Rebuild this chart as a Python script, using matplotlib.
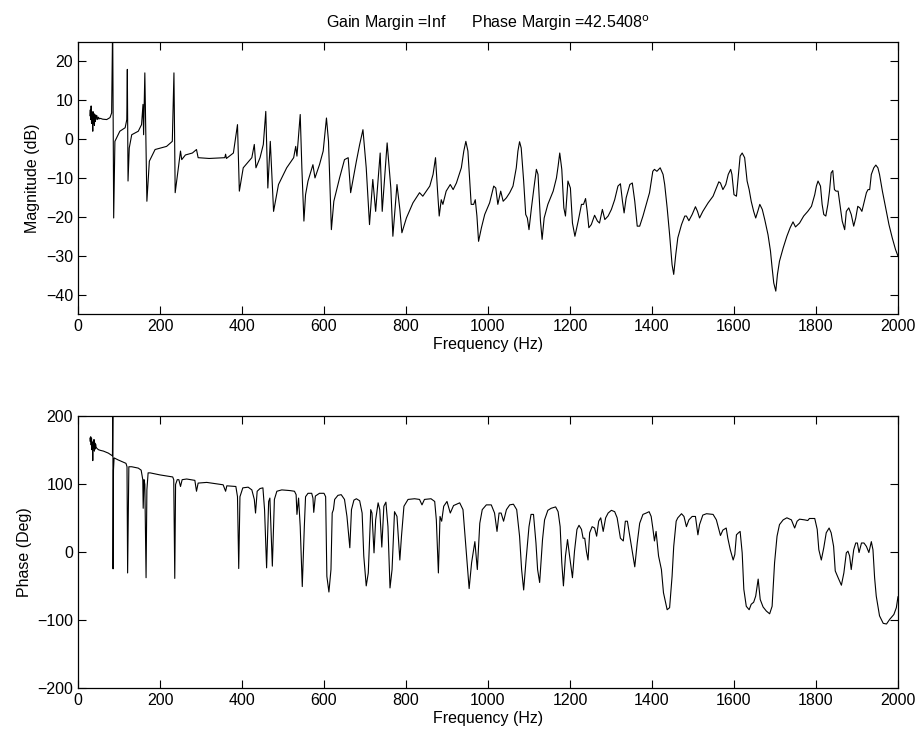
import matplotlib
matplotlib.use("Agg")
import matplotlib.pyplot as plt

plt.rcParams['font.family'] = ['Liberation Sans', 'DejaVu Sans']

# ---- Magnitude (dB) vs frequency (Hz) ----
mag_freq = [29, 30, 31, 32, 33, 34, 35, 36, 37, 38, 39, 40, 41, 42, 43, 44, 46, 48, 50, 52, 55, 60, 70, 78, 82,
            84.5, 87, 90, 102, 115, 119, 120.3, 122, 125, 131, 147, 155, 158.5, 160, 163, 168, 174, 188, 216,
            230, 234, 237, 250, 253, 262, 279, 289, 293, 320, 358, 360, 362, 379, 389, 393.5, 403, 424, 430,
            434, 444, 452, 458, 463, 469, 477, 489, 509, 526, 531, 534, 542, 546, 551, 555, 561, 573, 578, 589,
            598, 606, 611, 618, 624, 638, 650, 659, 665, 679, 687, 695, 703, 711, 719, 726, 737, 742, 754, 763,
            768, 778, 785, 790, 801, 817, 833, 841, 858, 866, 872, 877, 881, 886, 890, 898, 908, 915, 923, 935,
            941, 946, 951, 959, 965, 969, 973, 977, 984, 992, 1004, 1014, 1019, 1024, 1031, 1037, 1045, 1053,
            1061, 1069, 1073, 1077, 1081, 1087, 1092, 1096, 1100, 1106, 1112, 1118, 1122, 1128, 1132, 1137,
            1146, 1159, 1167, 1171, 1175, 1180, 1185, 1189, 1195, 1201, 1206, 1212, 1220, 1228, 1233, 1238,
            1242, 1246, 1252, 1260, 1267, 1272, 1279, 1285, 1293, 1301, 1309, 1317, 1323, 1328, 1332, 1337,
            1346, 1352, 1358, 1364, 1370, 1378, 1386, 1394, 1402, 1406, 1412, 1420, 1427, 1431, 1437, 1443,
            1449, 1453, 1458, 1463, 1472, 1480, 1484, 1490, 1498, 1506, 1511, 1516, 1524, 1537, 1549, 1557,
            1563, 1567, 1573, 1580, 1586, 1592, 1595, 1600, 1606, 1611, 1615, 1620, 1626, 1632, 1637, 1642,
            1648, 1653, 1658, 1663, 1669, 1675, 1683, 1689, 1693, 1697, 1702, 1706, 1711, 1720, 1729, 1737,
            1744, 1750, 1760, 1770, 1780, 1789, 1797, 1801, 1805, 1811, 1815, 1819, 1824, 1829, 1833, 1837,
            1841, 1845, 1849, 1854, 1858, 1864, 1870, 1874, 1880, 1886, 1892, 1897, 1902, 1907, 1912, 1917,
            1923, 1927, 1931, 1935, 1941, 1946, 1951, 1955, 1962, 1970, 1978, 1986, 1994, 2000]
mag_db = [6, 7.5, 5, 8.5, 4, 7, 5.5, 2, 7, 4, 6.5, 3.5, 6, 4.5, 6.2, 5, 6, 5, 5.6, 5.2, 5.3, 5.1, 5, 5.5, 6.7,
          30, -20.3, -0.6, 2, 2.9, 5, 17.9, -10.8, -2.3, 1.1, 2, 3.7, 8.9, 1.1, 17, -16, -5.7, -2.7, -1.9,
          -0.6, 17, -13.8, -3.1, -5.3, -4.1, -3.6, -2.7, -4.8, -5, -4.8, -3.9, -5, -3.6, 3.7, -13.4, -7.4, -4.8, -1.4,
          -7.4, -4.8, -1.4, 7.1, -12.6, -0.6, -18.6, -11.7, -7.4, -4.8, -1.9, -4.4, 6.3, -7.4, -21.1, -14.3, -10.8, -6.6, -10, -6.6,
          -3.1, 5.4, -0.6, -23.3, -16, -10, -5.3, -4.8, -13.8, -5.7, -1.4, 2.4, -7.4, -22, -10.4, -18.6, -3.6, -18.6, -1, -12.6,
          -25, -11.7, -18.1, -24.1, -20.3, -16.4, -13.8, -14.7, -12.1, -9.1, -4.8, -13.4, -19.8, -15.6, -16.8, -13.4, -11.7, -13, -11.3, -7.4,
          -3.1, -0.6, -3.1, -16.8, -16.8, -15.6, -19.8, -26.3, -22.8, -19.4, -16.4, -12.1, -12.6, -16.8, -13.4, -16, -15.1, -13.8,
          -12.1, -7.4, -3.1, -0.7, -2.3, -10.8, -19.4, -20.3, -23.3, -17.7, -12.6, -7.8, -9.1, -21.1, -25.8, -20.3,
          -16.8, -13.4, -10, -7, -3.6, -7.8, -17.7, -19.8, -10.8, -12.6, -21.6, -25, -21.1, -16.8, -16.8, -15.3,
          -18.6, -22.8, -22, -19.6, -21.1, -21.6, -18.1, -20.7, -19.8, -18.1, -15.6, -12.1, -11.5, -16, -19, -15.1,
          -11.7, -11.3, -16, -22.4, -22.4, -19.8, -16.8, -13.8, -8.3, -7.8, -8.3, -7.4, -9.1, -11.7, -17.7, -24.6,
          -32.3, -34.8, -29.7, -25.4, -22, -19.8, -19.8, -21, -19.4, -17.4, -18.6, -20.3, -18.6, -16.4, -14.7, -12.6,
          -11, -11.3, -13, -11.7, -9.1, -7.8, -9.1, -14.3, -14.7, -9.1, -4.4, -3.6, -4.8, -10.8, -13, -16,
          -18.6, -20.3, -18.6, -16.8, -18.1, -20.7, -24.6, -28.8, -33.1, -37, -39.1, -34.8, -31.4, -28, -25, -22.8,
          -21.3, -22.6, -21.6, -19.8, -18.6, -17.3, -14.3, -12.1, -10.8, -12.1, -16.8, -19.4, -19.8, -16.8, -13.4, -8.7,
          -8.1, -13, -13.4, -13.4, -16.4, -21.1, -23.3, -18.6, -17.7, -19.4, -22.4, -20.3, -17.3, -17.7, -18.6, -16.4,
          -13.8, -13, -13, -9.1, -7.4, -6.7, -7.4, -9.1, -13.4, -17.7, -22, -25.4, -28.4, -30.1]

# ---- Phase (deg) vs frequency (Hz) ----
phase_freq = [29, 30, 31, 32, 33, 34, 35, 36, 37, 38, 39, 40, 41, 42, 43, 44, 46, 48, 50, 55, 62, 74, 84,
              85, 85.5, 86.5, 88, 98, 117, 119.5, 121, 124, 131, 147, 154, 158, 159, 161, 163, 166, 168, 171,
              176, 200, 231, 233.5, 236, 238, 242, 246, 250, 254, 265, 285, 289, 293, 314, 354, 360, 363, 385,
              389, 392, 395, 402, 415, 424, 430, 433, 437, 444, 451, 455, 460, 465, 468, 474, 479, 485, 497,
              517, 528, 532, 534, 538, 542, 547, 552, 555, 561, 570, 573, 575, 579, 589, 600, 604, 607, 612,
              617, 620, 623, 626, 634, 642, 650, 656, 663, 667, 673, 679, 687, 693, 697, 703, 708, 714, 717,
              722, 726, 732, 736, 741, 746, 751, 756, 761, 766, 772, 778, 785, 789, 795, 805, 821, 833, 839,
              845, 861, 870, 874, 879, 883, 887, 892, 900, 908, 916, 931, 939, 946, 954, 960, 968, 974, 980,
              986, 996, 1008, 1016, 1022, 1027, 1032, 1038, 1045, 1053, 1062, 1070, 1077, 1082, 1087, 1093,
              1100, 1105, 1111, 1117, 1121, 1126, 1133, 1138, 1146, 1154, 1165, 1171, 1176, 1180, 1184, 1189,
              1194, 1199, 1206, 1211, 1217, 1222, 1228, 1232, 1236, 1240, 1244, 1248, 1254, 1260, 1265, 1270,
              1275, 1281, 1287, 1293, 1301, 1309, 1315, 1323, 1330, 1335, 1340, 1346, 1352, 1358, 1364, 1370,
              1378, 1386, 1393, 1398, 1402, 1406, 1410, 1416, 1423, 1428, 1437, 1443, 1449, 1453, 1459, 1463,
              1472, 1478, 1484, 1490, 1498, 1506, 1512, 1516, 1524, 1533, 1549, 1557, 1563, 1567, 1573, 1581,
              1585, 1591, 1598, 1602, 1606, 1611, 1615, 1620, 1624, 1630, 1637, 1642, 1648, 1653, 1659, 1664,
              1671, 1679, 1687, 1693, 1699, 1705, 1711, 1720, 1729, 1740, 1748, 1754, 1760, 1772, 1780, 1784,
              1790, 1797, 1803, 1807, 1813, 1819, 1825, 1832, 1837, 1843, 1847, 1854, 1862, 1868, 1874, 1878,
              1882, 1886, 1892, 1897, 1901, 1905, 1911, 1917, 1923, 1929, 1935, 1939, 1943, 1947, 1955, 1964,
              1972, 1980, 1990, 1996, 2000]
phase_deg = [167, 162, 169, 157, 167, 150, 160, 134, 162, 152, 165, 148, 160, 151, 158, 154, 152, 151, 150, 149, 148, 145, 141,
             230, -25, 120, 138, 135, 130, 125, -31, 125, 125, 123, 120, 106, 64, 106, 99, -38, 91, 116,
             116, 113, 110, 106, -39, 99, 106, 106, 96, 106, 107, 105, 89, 101, 102, 98.5, 89, 97, 96,
             81, -24.5, 81, 94, 95, 91, 77, 57, 89, 93, 94, 62, -23.5, 74, 79, -21, 77, 89, 91,
             90, 89, 84, 55, 79, 37, -51, 37, 81, 86, 86, 79, 58, 82, 86, 86, 81, -36, -59,
             -26, 57, 62, 77, 83, 84, 77, 52, 6, 62, 76, 78, 75, 57, -6, -50, -31, 62, 57,
             -1.5, 47, 72, 62, 7, 67, 73, 37, -53, -26, 59, 52, -12, 23, 67, 77, 78, 77, 69,
             77, 78, 74, 47, -31, 52, 45, 67, 74, 57, 68, 72, 62, 8, -54, -16, 15, -26, 42,
             62, 69, 69, 57, 30, 57, 57, 45, 62, 69, 70, 62, 23, -26, -56, -11,
             37, 55, 55, 13, -26, -45, 18, 47, 61, 64, 66, 59, 37, -16, -50, -6,
             18, -6, -38, 1, 33, 39, 33, 20, 20, 1, -12, 28, 37, 35, 23, 45,
             50, 30, 50, 57, 61, 59, 50, 20, 16, 45, 45, 23, 1, -22, 13, 42,
             55, 57, 59, 52, 35, 16, 30, -6, -26, -60, -85, -82, -36, 8, 45, 50,
             56, 52, 37, 47, 52, 52, 25, 40, 54, 56, 55, 47, 33, 24, 32, 35,
             20, 3, -12, -4, 25, 28, 30, -1.5, -55, -80, -85, -77, -74, -65, -40, -70,
             -81, -87, -91, -80, -16, 23, 40, 47, 50, 47, 35, 45, 48, 47, 46, 49,
             49, 49, 33, 3, -12, 6, 28, 35, 28, 8, -28, -38, -49, -31, -1.5, 1,
             -6, -26, 3, 13, 13, -1, 13, 13, 8, -1, 15, 3, -38, -65, -94, -105,
             -106, -99, -92, -82, -66]

x_ticks = list(range(0, 2001, 200))
mag_yticks = [-40, -30, -20, -10, 0, 10, 20]
phase_yticks = [-200, -100, 0, 100, 200]

fig = plt.figure(figsize=(9.21, 7.39), dpi=100)
ax1 = fig.add_axes([0.0847, 0.575, 0.8903, 0.3685])
ax2 = fig.add_axes([0.0847, 0.069, 0.8903, 0.3685])

ax1.plot(mag_freq, mag_db, color='black', lw=0.8)
ax2.plot(phase_freq, phase_deg, color='black', lw=0.8)

for ax in (ax1, ax2):
    ax.set_xlim(0, 2000)
    ax.set_xticks(x_ticks)
    ax.tick_params(direction='in', length=6, width=0.8, top=True, right=True, labelsize=11.5)
    ax.set_xlabel('Frequency (Hz)', fontsize=11.5, labelpad=2)
    for s in ax.spines.values():
        s.set_linewidth(0.9)

ax1.set_ylim(-45, 25)
ax1.set_yticks(mag_yticks)
ax1.set_yticklabels(['\u221240', '\u221230', '\u221220', '\u221210', '0', '10', '20'])
ax1.set_ylabel('Magnitude (dB)', fontsize=11.5)

ax2.set_ylim(-200, 200)
ax2.set_yticks(phase_yticks)
ax2.set_yticklabels(['\u2212200', '\u2212100', '0', '100', '200'])
ax2.set_ylabel('Phase (Deg)', fontsize=11.5)

ax1.set_title('Gain Margin =Inf      Phase Margin =42.5408$^{\\rm o}$', fontsize=11.5, pad=10)

fig.savefig('out.png', dpi=100)
